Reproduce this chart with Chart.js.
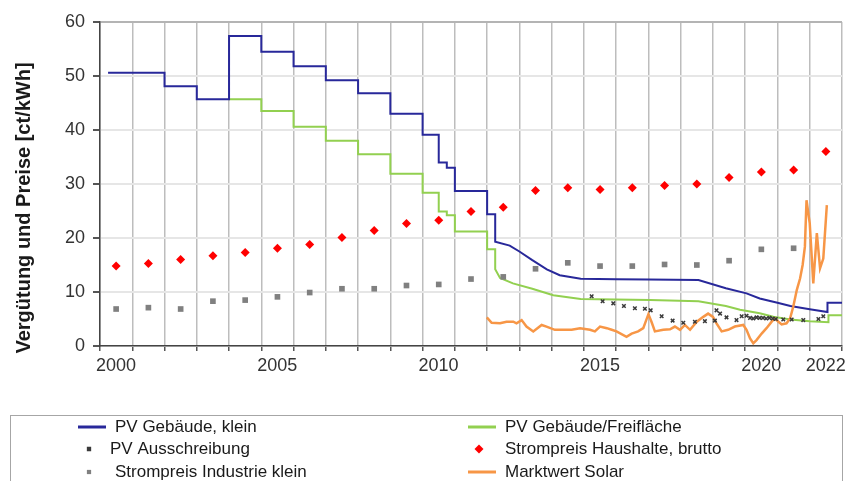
<!DOCTYPE html>
<html>
<head>
<meta charset="utf-8">
<title>EEG-Vergütung und Strompreise</title>
<script src="https://cdn.jsdelivr.net/npm/chart.js@4.4.1/dist/chart.umd.min.js"></script>
<style>
  html, body { margin: 0; padding: 0; background: #fff; }
  #wrap { position: relative; width: 851px; height: 481px; }
</style>
</head>
<body>
<div id="wrap"><canvas id="eeg-chart" width="851" height="481"></canvas></div>
<script>
// tick labels on the year axis
var xTickLabels = [2000, 2005, 2010, 2015, 2020, 2022];

// PV Gebäude, klein (steps: the same year twice = old rate / new rate)
var kleinYears  = [2000.25, 2002, 2002, 2003, 2003, 2004, 2004, 2005, 2005, 2006, 2006, 2007, 2007, 2008, 2008, 2009, 2009, 2010, 2010, 2010.5, 2010.5, 2010.75, 2010.75, 2011, 2011, 2012, 2012, 2012.25, 2012.25, 2012.7, 2013.0, 2013.4, 2013.85, 2014.25, 2014.9, 2016, 2017, 2018.55, 2019.4, 2020.04, 2020.45, 2021.0, 2021.4, 2022.0, 2022.55, 2022.55, 2023];
var kleinValues = [50.6, 50.6, 48.1, 48.1, 45.7, 45.7, 57.4, 57.4, 54.5, 54.5, 51.8, 51.8, 49.2, 49.2, 46.8, 46.8, 43.0, 43.0, 39.1, 39.1, 34.0, 34.0, 33.0, 33.0, 28.7, 28.7, 24.4, 24.4, 19.3, 18.6, 17.5, 15.9, 14.2, 13.1, 12.45, 12.35, 12.3, 12.2, 10.7, 9.75, 8.8, 8.0, 7.4, 6.8, 6.3, 8.0, 8.0];

// PV Gebäude/Freifläche
var freiYears  = [2004, 2005, 2005, 2006, 2006, 2007, 2007, 2008, 2008, 2009, 2009, 2010, 2010, 2010.5, 2010.5, 2010.75, 2010.75, 2011, 2011, 2012, 2012, 2012.25, 2012.25, 2012.4, 2012.8, 2013.4, 2014.05, 2014.9, 2017.05, 2018.55, 2019.4, 2019.84, 2020.45, 2020.87, 2021.4, 2022.0, 2022.58, 2022.58, 2023];
var freiValues = [45.7, 45.7, 43.5, 43.5, 40.6, 40.6, 38.0, 38.0, 35.5, 35.5, 31.9, 31.9, 28.4, 28.4, 24.9, 24.9, 24.2, 24.2, 21.2, 21.2, 17.9, 17.9, 14.2, 12.6, 11.6, 10.6, 9.4, 8.7, 8.5, 8.3, 7.4, 6.7, 6.05, 5.4, 4.9, 4.6, 4.4, 5.7, 5.7];

// PV Ausschreibung
var ausschrYears  = [2015.24, 2015.58, 2015.91, 2016.24, 2016.58, 2016.89, 2017.07, 2017.41, 2017.75, 2018.08, 2018.44, 2018.75, 2019.06, 2019.11, 2019.22, 2019.42, 2019.73, 2019.89, 2020.04, 2020.15, 2020.25, 2020.35, 2020.45, 2020.55, 2020.65, 2020.75, 2020.85, 2020.95, 2021.18, 2021.44, 2021.8, 2022.27, 2022.42];
var ausschrValues = [9.2, 8.3, 7.9, 7.4, 7.0, 6.9, 6.6, 5.5, 4.7, 4.3, 4.5, 4.6, 4.7, 6.6, 6.0, 5.3, 4.8, 5.5, 5.6, 5.2, 5.1, 5.3, 5.2, 5.2, 5.1, 5.2, 5.1, 5.0, 4.9, 4.9, 4.8, 5.0, 5.5];

// Strompreise, one point per year (drawn mid-year)
var priceYears     = [2000, 2001, 2002, 2003, 2004, 2005, 2006, 2007, 2008, 2009, 2010, 2011, 2012, 2013, 2014, 2015, 2016, 2017, 2018, 2019, 2020, 2021, 2022];
var haushaltValues = [14.8, 15.3, 16.0, 16.7, 17.3, 18.1, 18.8, 20.1, 21.4, 22.7, 23.3, 24.9, 25.7, 28.8, 29.3, 29.0, 29.3, 29.7, 30.0, 31.2, 32.2, 32.6, 36.0];
var industrieValues = [6.85, 7.1, 6.85, 8.3, 8.5, 9.1, 9.9, 10.6, 10.6, 11.2, 11.4, 12.4, 12.8, 14.3, 15.4, 14.8, 14.8, 15.1, 15.0, 15.8, 17.9, 18.1];

// Marktwert Solar
var marktYears  = [2011.99, 2012.14, 2012.4, 2012.6, 2012.81, 2012.91, 2013.07, 2013.22, 2013.43, 2013.69, 2013.84, 2014.1, 2014.36, 2014.62, 2014.88, 2015.19, 2015.34, 2015.5, 2015.71, 2015.86, 2016.01, 2016.32, 2016.48, 2016.68, 2016.84, 2017.0, 2017.1, 2017.2, 2017.46, 2017.67, 2017.82, 2017.98, 2018.13, 2018.29, 2018.5, 2018.7, 2018.85, 2019.0, 2019.11, 2019.27, 2019.47, 2019.68, 2019.94, 2020.04, 2020.15, 2020.25, 2020.35, 2020.51, 2020.66, 2020.82, 2020.92, 2021.03, 2021.13, 2021.28, 2021.39, 2021.49, 2021.6, 2021.7, 2021.78, 2021.85, 2021.9, 2022.0, 2022.11, 2022.22, 2022.32, 2022.42, 2022.53];
var marktValues = [5.3, 4.3, 4.2, 4.5, 4.5, 4.2, 4.8, 3.6, 2.7, 3.9, 3.6, 3.0, 3.0, 3.0, 3.3, 3.0, 2.7, 3.6, 3.3, 3.0, 2.7, 1.7, 2.3, 2.7, 3.3, 5.9, 4.4, 2.7, 3.0, 3.1, 3.6, 3.0, 3.9, 3.0, 4.5, 5.4, 6.0, 5.4, 4.2, 2.7, 3.0, 3.6, 3.9, 3.0, 1.4, 0.5, 1.1, 2.3, 3.3, 4.5, 5.1, 4.5, 4.0, 4.2, 5.1, 7.3, 10.4, 12.5, 15.0, 18.4, 27.0, 22.7, 11.6, 20.9, 14.4, 16.2, 26.1];

function pts(xs, ys, shift) {
  return ys.map(function (y, i) { return { x: xs[i] + (shift || 0), y: y }; });
}

// y-axis title, drawn centred on the text block of the original
var yTitlePlugin = {
  id: 'yTitle',
  afterDraw: function (chart) {
    var c = chart.ctx;
    c.save();
    c.translate(24, 208);
    c.rotate(-Math.PI / 2);
    c.font = 'bold 20px "Liberation Sans", Arial, sans-serif';
    c.fillStyle = '#1a1a1a';
    c.textAlign = 'center';
    c.textBaseline = 'middle';
    c.fillText('Vergütung und Preise [ct/kWh]', 0, 0);
    c.restore();
  }
};

// legend in a framed box, two columns
var legendBoxPlugin = {
  id: 'legendBox',
  afterDraw: function (chart) {
    var c = chart.ctx;
    var ds = chart.data.datasets;
    var rows = [427, 449, 472];
    var cols = [{ x: 78, text: 115 }, { x: 468, text: 505 }];
    c.save();
    c.strokeStyle = '#a6a6a6';
    c.lineWidth = 1;
    c.strokeRect(10.5, 415.5, 832, 80);
    c.font = '17px "Liberation Sans", Arial, sans-serif';
    c.textBaseline = 'middle';
    ds.forEach(function (d, i) {
      var col = cols[i % 2], y = rows[Math.floor(i / 2)];
      if (d.showLine !== false) {
        c.strokeStyle = d.borderColor;
        c.lineWidth = 3;
        c.beginPath();
        c.moveTo(col.x, y);
        c.lineTo(col.x + 28, y);
        c.stroke();
      } else {
        c.fillStyle = d.backgroundColor;
        c.strokeStyle = d.borderColor;
        c.lineWidth = d.borderWidth;
        Chart.helpers.drawPoint(c, {
          pointStyle: d.legendStyle || d.pointStyle,
          radius: d.legendRadius,
          borderWidth: d.borderWidth
        }, col.x + 11, y);
      }
      c.fillStyle = '#1a1a1a';
      c.fillText(d.label, d.legendText || col.text, y);
    });
    c.restore();
  }
};

var ctx = document.getElementById('eeg-chart').getContext('2d');
var chart = new Chart(ctx, {
  type: 'line',
  data: {
    datasets: [{
      label: 'PV Gebäude, klein',
      data: pts(kleinYears, kleinValues),
      borderColor: '#28289a',
      borderWidth: 2,
      pointRadius: 0,
      order: 2
    }, {
      label: 'PV Gebäude/Freifläche',
      data: pts(freiYears, freiValues),
      borderColor: '#92d050',
      borderWidth: 2,
      pointRadius: 0,
      order: 3
    }, {
      label: 'PV Ausschreibung',
      data: pts(ausschrYears, ausschrValues),
      showLine: false,
      pointStyle: 'crossRot',
      pointRadius: 2.5,
      legendStyle: 'rect',
      legendRadius: 2,
      legendText: 110,
      borderWidth: 1.5,
      borderColor: '#3a3a3a',
      backgroundColor: '#3a3a3a',
      order: -2
    }, {
      label: 'Strompreis Haushalte, brutto',
      data: pts(priceYears, haushaltValues, 0.5),
      showLine: false,
      pointStyle: 'rectRot',
      pointRadius: 4.5,
      legendRadius: 4.5,
      borderWidth: 0,
      borderColor: '#ff0000',
      backgroundColor: '#ff0000',
      order: 0
    }, {
      label: 'Strompreis Industrie klein',
      data: pts(priceYears, industrieValues, 0.5),
      showLine: false,
      pointStyle: 'rect',
      pointRadius: 4,
      legendRadius: 3,
      borderWidth: 0,
      borderColor: '#808080',
      backgroundColor: '#808080',
      order: 1
    }, {
      label: 'Marktwert Solar',
      data: pts(marktYears, marktValues),
      borderColor: '#f79646',
      borderWidth: 2.5,
      pointRadius: 0,
      order: -1
    }]
  },
  options: {
    responsive: false,
    animation: false,
    layout: { padding: { top: 22, right: 9, left: 0, bottom: 0 } },
    plugins: { legend: { display: false }, tooltip: { enabled: false } },
    scales: {
      x: {
        type: 'linear',
        min: 2000,
        max: 2023,
        afterFit: function (s) { s.height = 135; },
        ticks: {
          stepSize: 1,
          autoSkip: false,
          maxRotation: 0,
          labelOffset: 16,
          padding: 4,
          color: '#333',
          font: { size: 18, family: '"Liberation Sans", Arial, sans-serif' },
          callback: function (v) { return xTickLabels.indexOf(v) >= 0 ? String(v) : ''; }
        },
        grid: { color: '#bdbdbd', lineWidth: 1.5, tickLength: 5, tickColor: '#555' },
        border: { color: '#444', width: 1.5 }
      },
      y: {
        min: 0,
        max: 60,
        afterFit: function (s) { s.width = 100; },
        ticks: {
          stepSize: 10,
          padding: 8,
          color: '#333',
          font: { size: 18, family: '"Liberation Sans", Arial, sans-serif' }
        },
        grid: {
          color: function (c) { return c.tick && c.tick.value === 60 ? '#b4b4b4' : '#e6e6e6'; },
          lineWidth: 2,
          tickLength: 7,
          tickColor: '#555'
        },
        border: { color: '#444', width: 1.5 }
      }
    }
  },
  plugins: [yTitlePlugin, legendBoxPlugin]
});
</script>
</body>
</html>
